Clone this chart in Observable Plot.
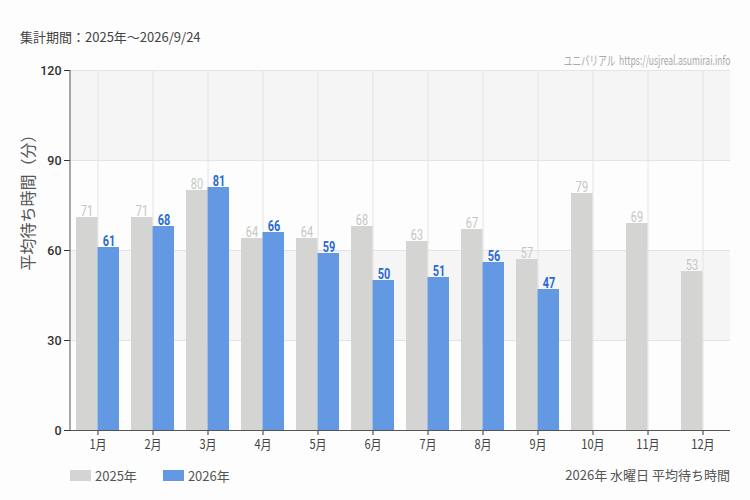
<!DOCTYPE html>
<html>
<head>
<meta charset="utf-8">
<script src="https://cdn.jsdelivr.net/npm/d3@7"></script>
<script src="https://cdn.jsdelivr.net/npm/@observablehq/plot@0.6"></script>
<style>
  html, body { margin: 0; padding: 0; background: #fcfdfc; }
  #wrap { position: relative; width: 750px; height: 500px; font-family: "Noto Sans CJK JP", "Noto Sans", sans-serif; }
  #period { position: absolute; left: 20px; top: 27px; font-size: 13px; color: #444; }
  #source { position: absolute; right: 20px; top: 50px; font-size: 13px; color: #aaa; white-space: pre; transform: scaleX(0.66); transform-origin: right center; }
  #chart { position: absolute; left: 0; top: 50px; }
  #legend { position: absolute; left: 70px; top: 466px; font-size: 12.5px; color: #555; display: flex; align-items: center; }
  .sw { display: inline-block; width: 21px; height: 11px; margin-right: 4px; }
  .item { display: flex; align-items: center; margin-right: 20px; font-family: "Noto Sans CJK JP", sans-serif; font-size: 13px; }
  #note { position: absolute; right: 20px; top: 465px; font-size: 13px; color: #555; font-family: "Noto Sans CJK JP", sans-serif; }
</style>
</head>
<body>
<div id="wrap">
  <div id="period">集計期間：2025年～2026/9/24</div>
  <div id="chart"></div>
  <div id="source"></div>
  <div id="legend">
    <span class="item"><span class="sw" style="background:#d4d4d2"></span>2025年</span>
    <span class="item" style="margin-left:6px"><span class="sw" style="background:#6399e2"></span>2026年</span>
  </div>
  <div id="note">2026年 水曜日 平均待ち時間</div>
</div>
<script>
const months = ["1月","2月","3月","4月","5月","6月","7月","8月","9月","10月","11月","12月"];
const wait2025 = [71,71,80,64,64,68,63,67,57,79,69,53];
const wait2026 = [61,68,81,66,59,50,51,56,47,null,null,null];
const yTicks = [0,30,60,90,120];
const shadeLow = [90,30];
const shadeHigh = [120,60];
const sourceText = "ユニバリアル  https://usjreal.asumirai.info";
const yLabel = "平均待ち時間（分）";

const d2025 = months.map((m,i)=>({month:m, value:wait2025[i]}));
const d2026 = months.map((m,i)=>({month:m, value:wait2026[i]})).filter(d=>d.value!=null);
const shades = shadeLow.map((lo,i)=>({lo, hi:shadeHigh[i]}));

document.getElementById("source").textContent = sourceText;

const numFont = "Roboto, sans-serif";

const leftLine = (index, scales, values, dims) => {
  const g = d3.create("svg:line")
    .attr("x1", dims.marginLeft).attr("x2", dims.marginLeft)
    .attr("y1", dims.marginTop).attr("y2", dims.height - dims.marginBottom)
    .attr("stroke", "#555").attr("stroke-width", 1);
  return g.node();
};

const chart = Plot.plot({
  width: 750,
  height: 410,
  marginTop: 20,
  marginBottom: 30,
  marginLeft: 70,
  marginRight: 20,
  style: {background: "transparent", fontFamily: "'Noto Sans CJK JP', sans-serif"},
  x: {domain: months, padding: 0, label: null},
  y: {domain: [0,120], label: null},
  marks: [
    Plot.rect(shades, {y1: "lo", y2: "hi", fill: "#f5f5f5"}),
    Plot.gridY(yTicks, {stroke: "#e4e4e4", strokeOpacity: 1}),
    Plot.gridX(months, {stroke: "#e4e4e4", strokeOpacity: 1}),
    Plot.barY(d2025, {x: "month", y: "value", fill: "#d4d4d2", insetLeft: 6, insetRight: 27.5}),
    Plot.barY(d2026, {x: "month", y: "value", fill: "#6399e2", insetLeft: 27.5, insetRight: 6}),
    Plot.text(d2025, {x: "month", y: "value", text: d=>String(d.value), dx: -11, dy: -2, lineAnchor: "bottom", fill: "#c6c6c6", fontSize: 14, fontFamily: numFont, className: "cond"}),
    Plot.text(d2026, {x: "month", y: "value", text: d=>String(d.value), dx: 11, dy: -2, lineAnchor: "bottom", fill: "#2a6ad2", fontSize: 14, fontWeight: "bold", fontFamily: numFont, className: "cond"}),
    Plot.axisY({ticks: yTicks, tickSize: 6, tickPadding: 3, fontSize: 12.5, fill: "#333", stroke: "#333", label: null, fontFamily: "Roboto, sans-serif", fontWeight: 500}),
    Plot.axisX({tickSize: 5, tickPadding: 4, fontSize: 13, fill: "#444", stroke: "#333", label: null, className: "condx"}),
    Plot.ruleY([0], {stroke: "#555"}),
    leftLine,
    Plot.text([yLabel], {frameAnchor: "left", dx: -42, dy: -52, rotate: -90, textAnchor: "middle", fill: "#555", fontSize: 16})
  ]
});
document.getElementById("chart").appendChild(chart);

function squeeze(selector, s) {
  chart.querySelectorAll(selector).forEach(t => {
    const num = v => v != null && /^-?[\d.]+$/.test(v.trim());
    const xa = t.getAttribute("x"), ya = t.getAttribute("y");
    const x = num(xa) ? +xa : 0, y = num(ya) ? +ya : 0;
    if (num(xa)) t.removeAttribute("x");
    if (num(ya)) t.removeAttribute("y");
    const tr = t.getAttribute("transform") || "";
    t.setAttribute("transform", `${tr} translate(${x},${y}) scale(${s},1)`);
  });
}
squeeze(".cond text", 0.78);
squeeze(".condx text", 0.85);
</script>
</body>
</html>
